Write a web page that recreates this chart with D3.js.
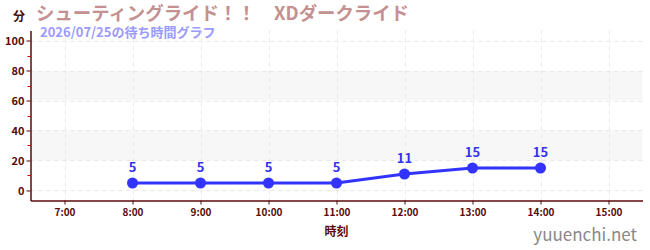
<!DOCTYPE html>
<html>
<head>
<meta charset="utf-8">
<script src="https://cdn.jsdelivr.net/npm/d3@7"></script>
<style>
  body { margin: 0; background: #fff; }
  text { font-family: "Noto Sans CJK JP", "Noto Sans", sans-serif; }
</style>
</head>
<body>
<svg width="650" height="250"></svg>
<script>
var hours = [8, 9, 10, 11, 12, 13, 14];
var waits = [5, 5, 5, 5, 11, 15, 15];
var hourTicks = [7, 8, 9, 10, 11, 12, 13, 14, 15];
var waitTicks = [0, 20, 40, 60, 80, 100];
var bands = [[20, 40], [60, 80]];

var svg = d3.select("svg"),
    width = +svg.attr("width"),
    height = +svg.attr("height");

var axisColor = "#5a0a0a";

var x = d3.scaleLinear().domain([6.5, 15.5]).range([30.5, 642.5]);
var y = d3.scaleLinear().domain([-6.67, 106.67]).range([200.5, 30.5]);

// shaded bands
svg.append("g")
  .selectAll("rect")
  .data(bands)
  .enter().append("rect")
    .attr("x", x(6.5))
    .attr("width", x(15.5) - x(6.5))
    .attr("y", function(d) { return y(d[1]); })
    .attr("height", function(d) { return y(d[0]) - y(d[1]); })
    .attr("fill", "#f7f7f7");

// grid
var grid = svg.append("g").attr("stroke", "#e8e8e8").attr("stroke-dasharray", "4,4");
grid.selectAll(".gy")
  .data(waitTicks)
  .enter().append("line")
    .attr("x1", x(6.5)).attr("x2", x(15.5))
    .attr("y1", function(d) { return Math.round(y(d)) + 0.5; })
    .attr("y2", function(d) { return Math.round(y(d)) + 0.5; });
grid.selectAll(".gx")
  .data(hourTicks)
  .enter().append("line")
    .attr("x1", function(d) { return Math.round(x(d)) + 0.5; })
    .attr("x2", function(d) { return Math.round(x(d)) + 0.5; })
    .attr("y1", y(106.67)).attr("y2", y(-6.67));

// y axis
var yAxis = svg.append("g")
    .attr("transform", "translate(" + x(6.5) + ",0)")
    .call(d3.axisLeft(y).tickValues(waitTicks).tickSize(4).tickSizeOuter(0));
// minor ticks
svg.append("g")
  .selectAll("line")
  .data([10, 30, 50, 70, 90])
  .enter().append("line")
    .attr("x1", x(6.5) - 3).attr("x2", x(6.5))
    .attr("y1", function(d) { return Math.round(y(d)) + 0.5; })
    .attr("y2", function(d) { return Math.round(y(d)) + 0.5; })
    .attr("stroke", "#d00000");

// x axis
var xAxis = svg.append("g")
    .attr("transform", "translate(0," + y(-6.67) + ")")
    .call(d3.axisBottom(x).tickValues(hourTicks).tickSize(4).tickSizeOuter(0)
      .tickFormat(function(d) { return d + ":00"; }));

[xAxis, yAxis].forEach(function(a) {
  a.select(".domain").attr("stroke", axisColor).attr("stroke-width", 1.5);
  a.selectAll(".tick line").attr("stroke", axisColor);
  a.selectAll(".tick text")
    .attr("fill", axisColor)
    .style("font-size", "11px")
    .style("font-weight", "bold");
});
yAxis.selectAll(".tick text").attr("x", -6);
xAxis.selectAll(".tick text").attr("y", 8).style("font-size", "10px");

// line
var line = d3.line()
    .x(function(d, i) { return x(hours[i]); })
    .y(function(d) { return y(d); });

svg.append("path")
    .datum(waits)
    .attr("fill", "none")
    .attr("stroke", "#3333ff")
    .attr("stroke-width", 3)
    .attr("d", line);

svg.append("g")
  .selectAll("circle")
  .data(waits)
  .enter().append("circle")
    .attr("cx", function(d, i) { return x(hours[i]); })
    .attr("cy", function(d) { return y(d); })
    .attr("r", 5.5)
    .attr("fill", "#3333ff");

svg.append("g")
  .selectAll("text")
  .data(waits)
  .enter().append("text")
    .attr("x", function(d, i) { return x(hours[i]); })
    .attr("y", function(d) { return y(d) - 11; })
    .attr("text-anchor", "middle")
    .attr("fill", "#3333ee")
    .style("font-size", "13px")
    .style("font-weight", "bold")
    .text(function(d) { return d; });

// titles
svg.append("text")
    .attr("x", 13).attr("y", 21)
    .attr("fill", "#4a0a0a")
    .style("font-size", "12px").style("font-weight", "bold")
    .text("分");
svg.append("text")
    .attr("x", 36).attr("y", 20)
    .attr("fill", "#c49090")
    .style("font-size", "18.4px").style("font-weight", "bold")
    .text("シューティングライド！！　XDダークライド");
svg.append("text")
    .attr("x", 40).attr("y", 37)
    .attr("fill", "#9a9aff")
    .style("font-size", "13px").style("font-weight", "bold")
    .text("2026/07/25の待ち時間グラフ");

svg.append("text")
    .attr("x", x(11)).attr("y", 236)
    .attr("text-anchor", "middle")
    .attr("fill", axisColor)
    .style("font-size", "12px").style("font-weight", "bold")
    .text("時刻");

svg.append("text")
    .attr("x", 637).attr("y", 241)
    .attr("text-anchor", "end")
    .attr("fill", "#888")
    .style("font-size", "17px")
    .text("yuuenchi.net");
</script>
</body>
</html>
